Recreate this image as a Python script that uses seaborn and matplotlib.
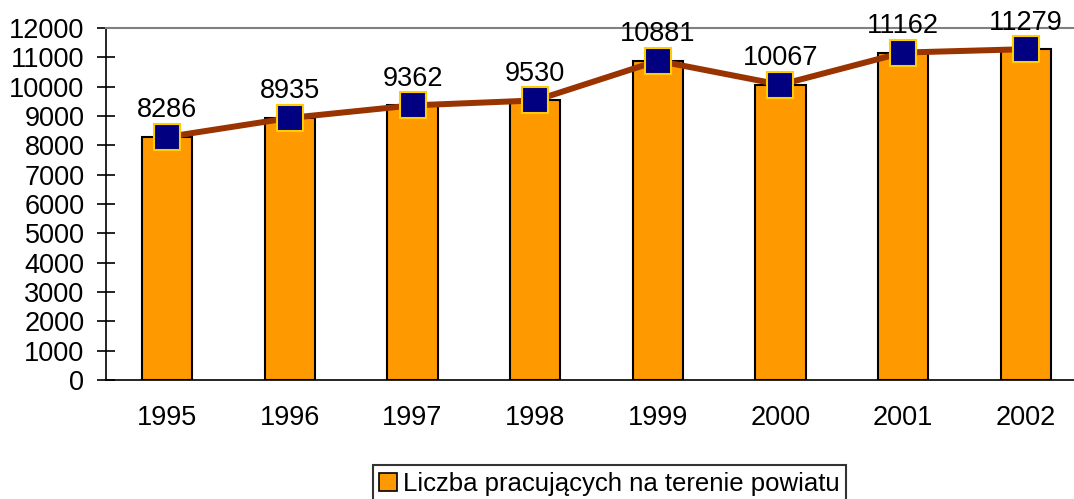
import matplotlib
matplotlib.use("Agg")
import matplotlib.pyplot as plt
import seaborn as sns
import numpy as np
from matplotlib.patches import Patch

# data
years = ['1995', '1996', '1997', '1998', '1999', '2000', '2001', '2002']
workers = [8286, 8935, 9362, 9530, 10881, 10067, 11162, 11279]
legend_label = 'Liczba pracujących na terenie powiatu'

sns.set_style("white")
plt.rcParams['font.family'] = ['Liberation Sans', 'DejaVu Sans']
plt.rcParams['text.color'] = 'black'
plt.rcParams['xtick.color'] = 'black'
plt.rcParams['ytick.color'] = 'black'

fig = plt.figure(figsize=(10.74, 4.99), dpi=100)
ax = fig.add_axes([106 / 1074, 119 / 499, 981 / 1074, 352 / 499])

sns.barplot(x=years, y=workers, color='#FF9900', edgecolor='black',
            linewidth=1.5, width=0.41, saturation=1, ax=ax)
sns.pointplot(x=years, y=workers, color='#993300', markers='s',
              linewidth=4.3, markersize=18.5, markeredgecolor='#FFCC00',
              markerfacecolor='#000080', markeredgewidth=1.5,
              errorbar=None, ax=ax)

for i, v in enumerate(workers):
    ax.annotate(str(v), (i, v), xytext=(0, 14), textcoords='offset points',
                ha='center', va='baseline', fontsize=19.5,
                annotation_clip=False)

ax.set_xlim(-0.5, len(years) - 0.5)
ax.set_ylim(0, 12000)
ax.set_yticks(np.arange(0, 12001, 1000))
ax.set_xticks(np.arange(-0.5, len(years), 1.0))
ax.set_xticklabels([])
ax.set_xticks(np.arange(len(years)), labels=years, minor=True)
ax.tick_params(axis='x', which='major', direction='inout', length=13,
               width=1.2)
ax.tick_params(axis='x', which='minor', length=0, pad=18, labelsize=19.5)
ax.tick_params(axis='y', direction='inout', length=13, width=1.2,
               pad=9, labelsize=19.5, left=True)

for s in ['left', 'bottom']:
    ax.spines[s].set_color('black')
    ax.spines[s].set_linewidth(1.2)
ax.spines['top'].set_color('#808080')
ax.spines['top'].set_linewidth(1.5)
ax.spines['right'].set_visible(False)
ax.set_xlabel('')
ax.set_ylabel('')

# legend box sits on the bottom edge, as in the original
handle = Patch(facecolor='#FF9900', edgecolor='black', linewidth=1.2)
leg = fig.legend([handle], [legend_label], loc='lower left',
                 bbox_to_anchor=(373 / 1074, -3 / 499), fontsize=18.5,
                 frameon=True, fancybox=False, edgecolor='black',
                 handlelength=0.7, handleheight=0.7, handletextpad=0.2,
                 borderpad=0.25, borderaxespad=0)
leg.get_frame().set_linewidth(1.5)

fig.savefig('out.png', dpi=100)
